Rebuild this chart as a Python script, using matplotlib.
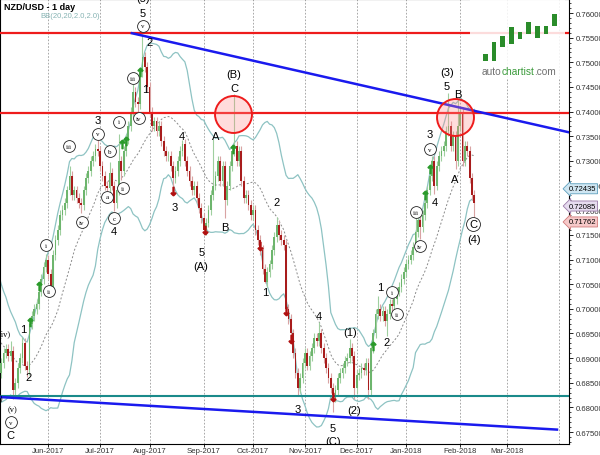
import numpy as np
import pandas as pd
import matplotlib
matplotlib.use('Agg')
import matplotlib.pyplot as plt
import matplotlib.transforms as mtransforms
from matplotlib.ticker import MultipleLocator, FormatStrFormatter
from matplotlib.patches import Rectangle

plt.rcParams['font.family'] = ['Liberation Sans', 'DejaVu Sans']

# =============================================================================
# data (daily NZD/USD, weekdays only, x = trading-day index from first_day)
# =============================================================================
first_day = '2017-05-03'
last_day = '2018-02-09'

# closes before first_day, only needed to warm up the bollinger bands
warmup = [0.7045, 0.7050, 0.7030, 0.7010, 0.7020, 0.7000, 0.6990, 0.6975, 0.6980, 0.6960,
          0.6950, 0.6935, 0.6910, 0.6895, 0.6885, 0.6875, 0.6860, 0.6850, 0.6865, 0.6855]

closes = [
    0.6870, 0.6890, 0.6910, 0.6918, 0.6905, 0.6915, 0.6835, 0.6850, 0.6880, 0.6900,
    0.6930, 0.6885, 0.6875, 0.6970, 0.6985, 0.7000, 0.7010, 0.7035, 0.7060, 0.7085,
    0.7100, 0.7070, 0.7045, 0.7110, 0.7140, 0.7160, 0.7190, 0.7200, 0.7215, 0.7240,
    0.7270, 0.7230, 0.7240, 0.7225, 0.7215, 0.7210, 0.7240, 0.7265, 0.7280, 0.7300,
    0.7310, 0.7325, 0.7320, 0.7290, 0.7270, 0.7250, 0.7245, 0.7275, 0.7250, 0.7215,
    0.7240, 0.7300, 0.7280, 0.7320, 0.7345, 0.7370, 0.7400, 0.7440, 0.7420, 0.7415,
    0.7480, 0.7510, 0.7490, 0.7450, 0.7400, 0.7370, 0.7380, 0.7360, 0.7370, 0.7340,
    0.7320, 0.7310, 0.7310, 0.7290, 0.7265, 0.7280, 0.7300, 0.7320, 0.7335, 0.7300,
    0.7280, 0.7260, 0.7240, 0.7250, 0.7225, 0.7205, 0.7185, 0.7160, 0.7175, 0.7200,
    0.7230, 0.7250, 0.7270, 0.7300, 0.7260, 0.7290, 0.7220, 0.7250, 0.7290, 0.7320,
    0.7330, 0.7300, 0.7320, 0.7260, 0.7225, 0.7230, 0.7210, 0.7190, 0.7200, 0.7160,
    0.7140, 0.7120, 0.7080, 0.7055, 0.7075, 0.7090, 0.7120, 0.7145, 0.7170, 0.7150,
    0.7140, 0.7130, 0.7000, 0.6980, 0.6950, 0.6910, 0.6870, 0.6840, 0.6860, 0.6890,
    0.6910, 0.6885, 0.6905, 0.6920, 0.6940, 0.6935, 0.6950, 0.6920, 0.6900, 0.6880,
    0.6860, 0.6840, 0.6820, 0.6835, 0.6860, 0.6870, 0.6880, 0.6895, 0.6900, 0.6920,
    0.6905, 0.6840, 0.6865, 0.6870, 0.6880, 0.6875, 0.6890, 0.6835, 0.6920, 0.6950,
    0.6990, 0.7000, 0.6985, 0.6995, 0.6975, 0.6990, 0.7010, 0.7005, 0.7020, 0.7035,
    0.7045, 0.7060, 0.7075, 0.7090, 0.7100, 0.7110, 0.7125, 0.7155, 0.7180, 0.7165,
    0.7190, 0.7215, 0.7240, 0.7270, 0.7300, 0.7250, 0.7290, 0.7310, 0.7320, 0.7330,
    0.7360, 0.7370, 0.7330, 0.7350, 0.7300, 0.7370, 0.7400, 0.7300, 0.7330, 0.7320,
    0.7265, 0.7230, 0.7215,
]

# extreme wicks (index: price)
pivot_high = {5: 0.6934, 10: 0.6943, 20: 0.7111, 30: 0.7290, 42: 0.7344, 47: 0.7298,
              51: 0.7355, 57: 0.7456, 61: 0.7557, 78: 0.7342, 91: 0.7345, 100: 0.7435,
              118: 0.7186, 136: 0.6973, 149: 0.6939, 161: 0.7026, 177: 0.7192,
              184: 0.7310, 191: 0.7437, 195: 0.7426}
pivot_low = {6: 0.6818, 12: 0.6862, 22: 0.7038, 35: 0.7195, 46: 0.7235, 49: 0.7198,
             52: 0.7262, 59: 0.7400, 74: 0.7240, 87: 0.7150, 96: 0.7185, 113: 0.7052,
             127: 0.6823, 142: 0.6791, 151: 0.6817, 157: 0.6817, 165: 0.6945,
             179: 0.7142, 185: 0.7233, 194: 0.7284, 202: 0.7182}

resistance_levels = [0.7559, 0.7397]
support_level = 0.6823
trend_upper_x = [56.5, 242.2]
trend_upper_y = [0.7559, 0.7358]
trend_lower_x = [0.47, 237.1]
trend_lower_y = [0.6821, 0.6755]
zone_x = [99.4, 193.8]
zone_y = [0.7395, 0.7389]

wave_labels = [  # (x, price, text)
    (61.2, 0.7630, '(5)'), (61.2, 0.7600, '5'), (64.2, 0.7541, '2'), (62.1, 0.7446, '1'),
    (42.1, 0.7383, '3'), (48.9, 0.7158, '4'), (10.2, 0.6959, '1'), (12.4, 0.6862, '2'),
    (5.1, 0.6744, 'C'), (77.8, 0.7350, '4'), (74.8, 0.7206, '3'), (86.3, 0.7115, '5'),
    (85.9, 0.7087, '(A)'), (92.2, 0.7350, 'A'), (96.0, 0.7166, 'B'), (99.9, 0.7476, '(B)'),
    (99.9, 0.7448, 'C'), (118.1, 0.7217, '2'), (113.0, 0.7034, '1'), (127.1, 0.6797, '3'),
    (136.0, 0.6985, '4'), (141.9, 0.6758, '5'), (141.9, 0.6732, '(C)'), (149.2, 0.6953, '(1)'),
    (150.8, 0.6795, '(2)'), (161.9, 0.7044, '1'), (164.9, 0.6933, '2'), (185.3, 0.7217, '4'),
    (183.1, 0.7355, '3'), (190.4, 0.7452, '5'), (190.4, 0.7480, '(3)'), (195.0, 0.7436, 'B'),
    (193.8, 0.7263, 'A'), (201.8, 0.7142, '(4)'),
]
minor_labels = [(2.6, 0.6951, '(iv)'), (-0.9, 0.6821, '(iii)'), (5.6, 0.6797, '(v)')]
circle_labels = [
    (61.2, 0.7574, 'v'), (57.0, 0.7468, 'iii'), (59.5, 0.7387, 'iv'), (51.0, 0.7379, 'i'),
    (42.1, 0.7355, 'v'), (29.8, 0.7330, 'iii'), (47.2, 0.7320, 'b'), (52.7, 0.7245, 'ii'),
    (45.9, 0.7227, 'a'), (48.9, 0.7184, 'c'), (35.3, 0.7176, 'iv'), (20.0, 0.7129, 'i'),
    (21.3, 0.7036, 'ii'), (5.1, 0.6770, 'v'), (167.0, 0.7034, 'i'), (169.1, 0.6989, 'ii'),
    (177.2, 0.7196, 'iii'), (178.9, 0.7127, 'iv'), (183.1, 0.7324, 'v'),
]
buy_arrows_x = [13.2, 17.0, 52.3, 54.0, 59.9, 99.4, 158.9, 181.0, 183.1]
buy_arrows_y = [0.6973, 0.7046, 0.7334, 0.7340, 0.7480, 0.7324, 0.6925, 0.7231, 0.7284]
sell_arrows_x = [74.0, 87.5, 110.9, 121.9, 124.1, 141.9]
sell_arrows_y = [0.7239, 0.7160, 0.7127, 0.6996, 0.6939, 0.6821]

price_tags = [0.72435, 0.72085, 0.71762]
tag_face = ['#cfe6f2', '#e6dcef', '#f6c9c9']
tag_edge = ['#5d9fbd', '#9a7aa8', '#d07a7a']

# autochartist logo bars (bottom, top) in logo units
logo_lo = [2, 2, 16, 19, 24, 29, 25, 29, 37]
logo_hi = [9, 21, 27, 36, 31, 41, 37, 37, 49]

# =============================================================================
# derived ohlc + bollinger bands
# =============================================================================
n = len(closes)
assert n == len(pd.bdate_range(first_day, last_day))
x = np.arange(n)
c = np.array(closes)
o = np.r_[warmup[-1], c[:-1]]
wick = 0.0010
h = np.maximum(o, c) + wick
l = np.minimum(o, c) - wick
for k, v in pivot_high.items():
    h[k] = v
for k, v in pivot_low.items():
    l[k] = v
up = c >= o

allc = pd.Series(warmup + closes)
bb_mid = allc.rolling(20).mean()
bb_sd = allc.rolling(20).std(ddof=0)
bx = np.arange(-len(warmup), n)

months = pd.date_range('2017-06-01', '2018-04-01', freq='MS')
month_idx = np.busday_count(first_day, months.values.astype('datetime64[D]'))
month_lbl = [m.strftime('%b-%Y') for m in months]

# =============================================================================
# plot
# =============================================================================
fig = plt.figure(figsize=(6, 4.56), dpi=100)
ax = fig.add_axes([0, 11 / 456, 569 / 600, 445 / 456])
ax.set_xlim(0.47, 242.2)
ax.set_ylim(0.67258, 0.76284)

for mi in month_idx:
    ax.axvline(mi, color='#9a9a9a', lw=0.6, ls=(0, (2, 2)), zorder=1)

ax.plot(bx, bb_mid, color='#8a8a8a', lw=0.7, ls=(0, (2, 2)), zorder=2)
ax.plot(bx, bb_mid + 2 * bb_sd, color='#8ec3c3', lw=0.9, zorder=2)
ax.plot(bx, bb_mid - 2 * bb_sd, color='#8ec3c3', lw=0.9, zorder=2)

# candles
ax.vlines(x[up], l[up], h[up], color='#9fcf9f', lw=0.8, zorder=3)
ax.vlines(x[~up], l[~up], h[~up], color='#d9a3a3', lw=0.8, zorder=3)
ax.bar(x[up], (c - o)[up], bottom=o[up], width=0.75, color='#6db56d', zorder=3)
ax.bar(x[~up], (o - c)[~up], bottom=c[~up], width=0.75, color='#a81c1c', zorder=3)

for lvl in resistance_levels:
    ax.axhline(lvl, color='#ee1c1c', lw=1.6, zorder=4)
ax.axhline(support_level, color='#1a8a8a', lw=1.5, zorder=4)
ax.plot(trend_upper_x, trend_upper_y, color='#1a1aee', lw=1.8, zorder=4)
ax.plot(trend_lower_x, trend_lower_y, color='#1a1aee', lw=1.8, zorder=4)

ax.plot(zone_x, zone_y, 'o', ms=26.6, mfc=(1, 0.55, 0.55, 0.3), mec='#ee1c1c', mew=1.4,
        ls='none', zorder=5)

ax.plot(buy_arrows_x, buy_arrows_y, ls='none', marker=r'$\uparrow$', ms=6, color='#2a9a2a', zorder=5)
ax.plot(sell_arrows_x, sell_arrows_y, ls='none', marker=r'$\downarrow$', ms=6, color='#b01010', zorder=5)

for lx, ly, t in wave_labels:
    ax.text(lx, ly, t, fontsize=8, ha='center', va='center', color='black', zorder=6, clip_on=True)
for lx, ly, t in minor_labels:
    ax.text(lx, ly, t, fontsize=6, family='Liberation Serif', ha='center', va='center',
            color='black', zorder=6, clip_on=True)
cx = [p[0] for p in circle_labels]
cy = [p[1] for p in circle_labels]
ax.plot(cx, cy, 'o', ms=8.5, mfc='white', mec='#222222', mew=0.6, ls='none', zorder=6)
for lx, ly, t in circle_labels:
    ax.text(lx, ly, t, fontsize=5, family='Liberation Serif', ha='center', va='center', zorder=7)
ax.plot([201.4], [0.7172], 'o', ms=10, mfc='white', mec='#222222', mew=0.6, zorder=6)
ax.text(201.4, 0.7172, 'C', fontsize=8, ha='center', va='center', zorder=7)

# axes styling
ax.yaxis.tick_right()
ax.yaxis.set_major_locator(MultipleLocator(0.005))
ax.yaxis.set_minor_locator(MultipleLocator(0.001))
ax.yaxis.set_major_formatter(FormatStrFormatter('%.5f'))
ax.tick_params(axis='y', which='major', length=3, width=0.6, labelsize=5.6, pad=1.5, labelcolor='#333333')
ax.tick_params(axis='y', which='minor', length=1.5, width=0.5)
ax.set_xticks(month_idx[:-1])
ax.set_xticklabels(month_lbl[:-1])
ax.tick_params(axis='x', length=2, width=0.6, labelsize=5.6, pad=0.5, labelcolor='#333333')
for s in ax.spines.values():
    s.set_linewidth(0.8)

trans = mtransforms.blended_transform_factory(ax.transAxes, ax.transData)
for p, fc, ec in zip(price_tags, tag_face, tag_edge):
    ax.text(596 / 569, p, '%.5f' % p, transform=trans, fontsize=5.5, ha='right', va='center',
            clip_on=False, zorder=8,
            bbox=dict(boxstyle='larrow,pad=0.2', fc=fc, ec=ec, lw=0.6))

ax.text(4 / 569, 1 - 8 / 445, 'NZD/USD - 1 day', transform=ax.transAxes, fontsize=6.5,
        fontweight='bold', ha='left', va='center', zorder=8)
ax.text(40 / 569, 1 - 17 / 445, 'BB(20,20,2.0,2.0)', transform=ax.transAxes, fontsize=5.5,
        color='#86b3b3', ha='left', va='center', zorder=8)

# logo
ax.add_patch(Rectangle((470 / 569, 1 - 80 / 445), 95 / 569, 80 / 445, transform=ax.transAxes,
                       fc='white', ec='none', alpha=0.85, zorder=7))
lax = fig.add_axes([480 / 600, (456 - 64) / 456, 80 / 600, 52 / 456])
lax.bar(np.arange(len(logo_lo)), np.array(logo_hi) - np.array(logo_lo), bottom=logo_lo,
        width=0.55, color='#2a8c2a')
lax.set_xlim(-0.6, len(logo_lo) - 0.4)
lax.set_ylim(0, 52)
lax.axis('off')
t1 = fig.text(482 / 600, 1 - 72 / 456, 'auto', fontsize=7.3, color='#707070', va='center', zorder=9)
t2 = ax.annotate('chartist', xy=(1, 0), xycoords=t1, va='bottom', fontsize=7.3,
                 color='#3a9a3a', zorder=9, annotation_clip=False)
ax.annotate('.com', xy=(1, 0), xycoords=t2, va='bottom', fontsize=7.3, color='#707070',
            zorder=9, annotation_clip=False)

fig.savefig('out.png', dpi=100)
